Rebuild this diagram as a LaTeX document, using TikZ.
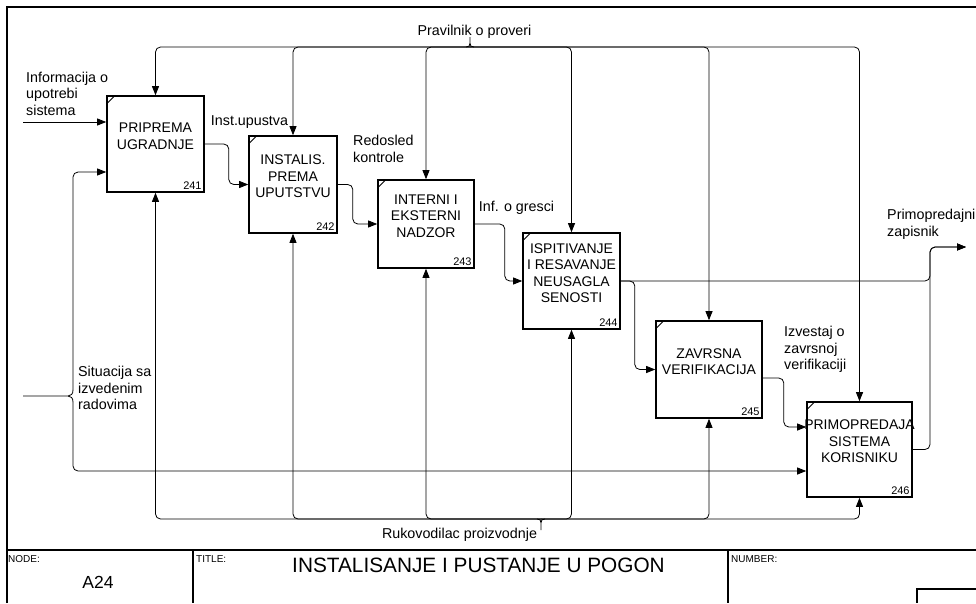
\documentclass[tikz,border=0pt]{standalone}
\usepackage{fontspec}
\setmainfont{Liberation Sans}
\usetikzlibrary{arrows.meta,calc}

% IDEF0 activity box: name, centre x, centre y, width, height, text, number
\newcommand\idefbox[7]{%
  \node[func, minimum width=#4pt, minimum height=#5pt] (#1) at (#2,#3) {};
  \draw[line width=0.9pt] ($(#1.north west)+(1,8)$) -- ($(#1.north west)+(8,1)$);
  \node[boxtext] (#1t) at ($(#1.center)+(0,-8)$) {#6};
  \node[num] (#1n) at ($(#1.south east)+(-3,-3)$) {#7};
}

\begin{document}
\begin{tikzpicture}[x=1pt,y=-1pt,
  func/.style={draw, line width=1.6pt, inner sep=0pt},
  boxtext/.style={align=center, font=\fontsize{14}{16.5}\selectfont, inner sep=0pt},
  num/.style={font=\fontsize{11}{12}\selectfont, inner sep=0pt, anchor=south east},
  lbl/.style={align=left, font=\fontsize{14.3}{16.5}\selectfont, inner sep=0pt},
  conn/.style={line width=0.8pt, rounded corners=5pt},
  arr/.style={conn, -{Triangle[length=9pt,width=7pt]}},
  frameline/.style={line width=1.2pt},
  hdr/.style={font=\fontsize{10}{11}\selectfont, inner sep=0pt, anchor=north west}
]
\useasboundingbox (0,0) rectangle (976,603);

% drawing frame and title block
\draw[frameline] (7,603) -- (7,7) -- (976,7);
\draw[frameline] (7,550) -- (976,550);
\draw[frameline] (193,550) -- (193,603);
\draw[frameline] (728,550) -- (728,603);
\draw[frameline] (976,589) -- (917,589) -- (917,603);
\node[hdr] (hnode) at (8,555) {NODE:};
\node[hdr] (htitle) at (196,555) {TITLE:};
\node[hdr] (hnum) at (731,555) {NUMBER:};
\node[font=\fontsize{17.5}{20}\selectfont, inner sep=0pt] (nodeid) at (98,582) {A24};
\node[font=\fontsize{20.8}{24}\selectfont, inner sep=0pt] (title) at (478.5,565) {INSTALISANJE I PUSTANJE U POGON};

% activity boxes
\idefbox{b241}{155.5}{144}{97}{96}{PRIPREMA\\UGRADNJE}{241}
\idefbox{b242}{293}{184.5}{88}{97}{INSTALIS.\\PREMA\\UPUTSTVU}{242}
\idefbox{b243}{426}{224}{96}{88}{INTERNI I\\EKSTERNI\\NADZOR}{243}
\idefbox{b244}{571.5}{281}{97}{96}{ISPITIVANJE\\I RESAVANJE\\NEUSAGLA\\SENOSTI}{244}
\idefbox{b245}{709}{369.5}{106}{97}{ZAVRSNA\\VERIFIKACIJA}{245}
\idefbox{b246}{859.5}{449.5}{105}{95}{PRIMOPREDAJA\\SISTEMA\\KORISNIKU}{246}

% control bus
\coordinate (ctl) at (470,47);
\node[lbl] (lctl) at (474.5,32) {Pravilnik o proveri};
\draw[conn, rounded corners=0pt] (470,37) -- (470,43)
  (466,47) .. controls (469,47) and (470,46) .. (470,43)
  .. controls (470,46) and (471,47) .. (474,47);
\foreach \b in {b241,b242,b243,b244,b245,b246}
  \draw[arr] (ctl) -| (\b.north);

% mechanism bus
\coordinate (mech) at (541,519);
\node[lbl] (lmech) at (459.5,535) {Rukovodilac proizvodnje};
\draw[conn, rounded corners=0pt] (541,523) -- (541,530)
  (537,519) .. controls (540,519) and (541,520) .. (541,523)
  .. controls (541,520) and (542,519) .. (545,519);
\foreach \b in {b241,b242,b243,b244,b245,b246}
  \draw[arr] (mech) -| (\b.south);

% inputs
\coordinate (in1) at (23,122);
\node[lbl, anchor=west] (lin1) at (26,93.5) {Informacija o\\upotrebi\\sistema};
\draw[arr] (in1) -- (b241.west |- in1);

\coordinate (in2) at (23,396);
\coordinate (situp) at (73,390);
\coordinate (sitdn) at (73,402);
\node[lbl, anchor=west] (lin2) at (78,388) {Situacija sa\\izvedenim\\radovima};
\draw[conn, rounded corners=0pt] (in2) -- (68,396)
  .. controls (71,396) and (73,394) .. (situp)
  (68,396) .. controls (71,396) and (73,398) .. (sitdn);
\draw[arr] (situp) |- ($(b241.west)+(0,28)$);
\draw[arr] (sitdn) |- ($(b246.west)+(0,21.5)$);

% flows between activities
\draw[arr] (b241.east) -- ++(24,0) |- (b242.west);
\node[lbl] (l12) at (249.5,122) {Inst.upustva};
\draw[arr] (b242.east) -- ++(15,0) |- (b243.west);
\node[lbl, anchor=west] (l23) at (353,149) {Redosled\\kontrole};
\draw[arr] (b243.east) -- ++(30,0) |- (b244.west);
\node[lbl] (l34) at (516.5,208) {Inf. o gresci};
\draw[arr] (b244.east) -- ++(14,0) |- (b245.west);
\draw[arr] ($(b245.east)+(0,8.5)$) -- ++(21,0) |- ($(b246.west)+(0,-22.5)$);
\node[lbl, anchor=west] (l56) at (784,349.5) {Izvestaj o\\zavrsnoj\\verifikaciji};

% output
\coordinate (ojoin) at (930,247);
\coordinate (out) at (966,247);
\draw[arr] (b244.east) -| (ojoin) -- (out);
\draw[arr] (b246.east) -| (ojoin) -- (out);
\node[lbl, anchor=west] (lout) at (887,224.5) {Primopredajni\\zapisnik};

\end{tikzpicture}
\end{document}
